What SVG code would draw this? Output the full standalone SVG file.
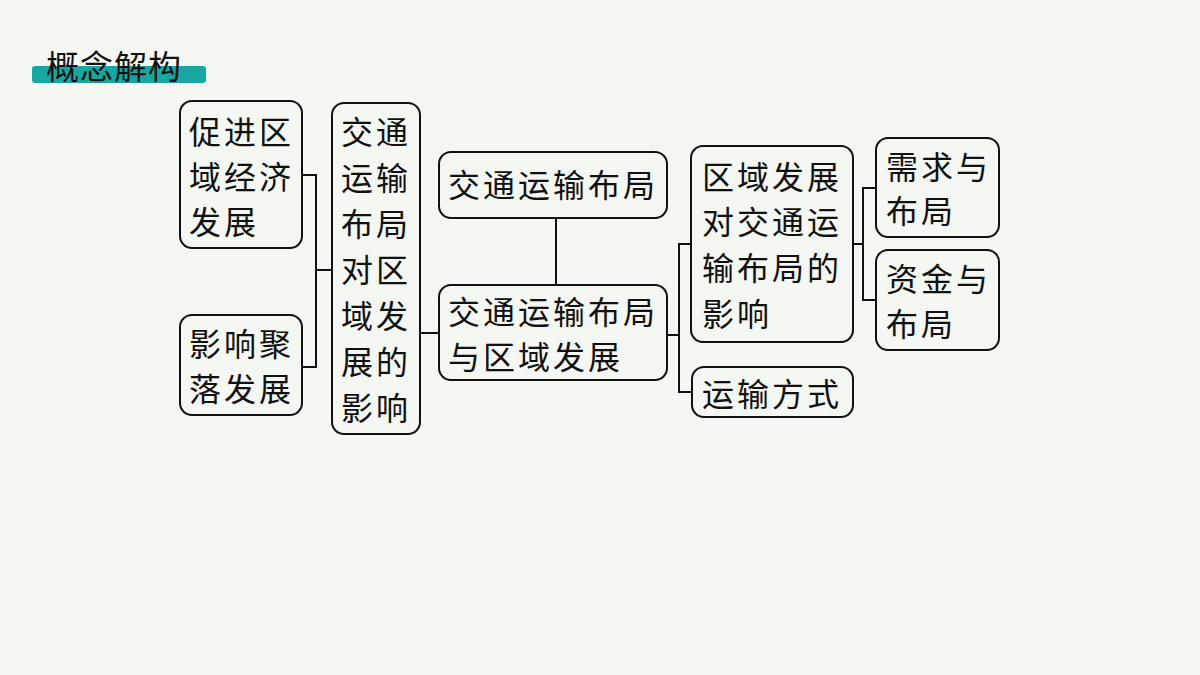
<svg xmlns="http://www.w3.org/2000/svg" width="1200" height="675" viewBox="0 0 1200 675">
<style>
.b{fill:none;stroke:#111;stroke-width:2}
.t{font-family:"Noto Sans CJK SC","Noto Sans",sans-serif;font-size:32px;letter-spacing:3px;fill:#111}
.c{fill:none;stroke:#111;stroke-width:2}
</style>
<rect width="1200" height="675" fill="#f3f6f1"/>
<g id="title">
<rect x="32" y="66" width="174" height="17" rx="3" fill="#1aa6a0"/>
<text x="46" y="79" style="font-family:'Noto Sans CJK SC',sans-serif;font-size:33px;letter-spacing:1px;fill:#111">概念解构</text>
</g>
<g id="connectors">
<path class="c" d="M302 175H316V367H302M316 270H332"/>
<path class="c" d="M420 333H439"/>
<path class="c" d="M556 218V285"/>
<path class="c" d="M667 335H679M691 244H679V392H692"/>
<path class="c" d="M853 244H863M876 188H863V300H876"/>
</g>
<g id="nA"><rect class="b" x="180" y="101" width="122" height="147" rx="12"/>
<text class="t" x="189" y="144">促进区</text><text class="t" x="189" y="189">域经济</text><text class="t" x="189" y="234">发展</text></g>
<g id="nB"><rect class="b" x="180" y="315" width="122" height="100" rx="12"/>
<text class="t" x="189" y="356">影响聚</text><text class="t" x="189" y="401">落发展</text></g>
<g id="nC"><rect class="b" x="332" y="103" width="88" height="331" rx="12"/>
<text class="t" x="341" y="144">交通</text><text class="t" x="341" y="190">运输</text><text class="t" x="341" y="236">布局</text><text class="t" x="341" y="282">对区</text><text class="t" x="341" y="328">域发</text><text class="t" x="341" y="374">展的</text><text class="t" x="341" y="420">影响</text></g>
<g id="nD"><rect class="b" x="439" y="152" width="228" height="66" rx="12"/>
<text class="t" x="448" y="197">交通运输布局</text></g>
<g id="nE"><rect class="b" x="439" y="285" width="228" height="95" rx="12"/>
<text class="t" x="448" y="324">交通运输布局</text><text class="t" x="448" y="369">与区域发展</text></g>
<g id="nF"><rect class="b" x="691" y="146" width="162" height="196" rx="12"/>
<text class="t" x="702" y="189">区域发展</text><text class="t" x="702" y="234">对交通运</text><text class="t" x="702" y="280">输布局的</text><text class="t" x="702" y="326">影响</text></g>
<g id="nG"><rect class="b" x="692" y="367" width="161" height="50" rx="12"/>
<text class="t" x="702" y="406">运输方式</text></g>
<g id="nH"><rect class="b" x="876" y="138" width="123" height="99" rx="12"/>
<text class="t" x="886" y="179">需求与</text><text class="t" x="886" y="223">布局</text></g>
<g id="nI"><rect class="b" x="876" y="250" width="123" height="100" rx="12"/>
<text class="t" x="886" y="291">资金与</text><text class="t" x="886" y="336">布局</text></g>
</svg>
